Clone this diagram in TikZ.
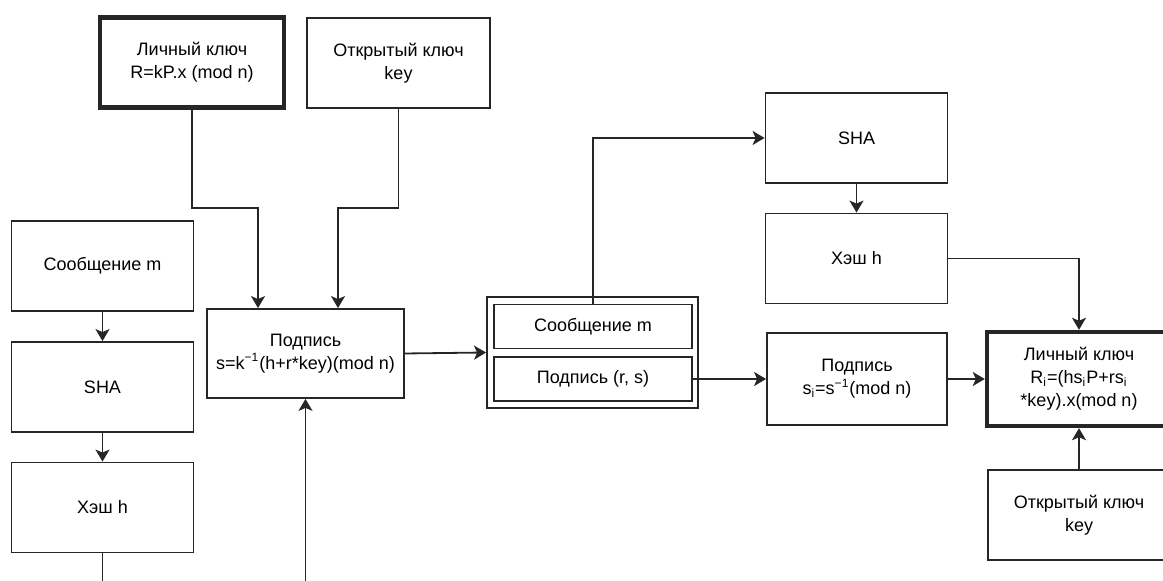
\documentclass[tikz,border=0pt]{standalone}
\usepackage{fontspec}
\setmainfont{Liberation Sans}
\usepackage{tikz}
\usetikzlibrary{arrows.meta,calc}
\definecolor{linegray}{HTML}{262626}

\tikzset{
  block/.style={draw=linegray,line width=0.9pt,rectangle,minimum width=91pt,minimum height=45pt,
    align=center,font=\fontsize{9}{11.5}\selectfont,inner sep=2pt},
  keyblock/.style={block,line width=2.2pt},
  slot/.style={block,minimum width=99pt,minimum height=22pt},
  arr/.style={draw=linegray,line width=0.9pt,-{Stealth[length=6pt,width=7pt,inset=1.5pt]}},
  wire/.style={draw=linegray,line width=0.9pt}
}

\begin{document}
\begin{tikzpicture}[x=0.5pt,y=-0.5pt]
  \useasboundingbox (0,0) rectangle (1163,581);
  \clip (0,0) rectangle (1163,581);

  % signing side
  \node[block] (msg) at (102.5,266) {Сообщение m};
  \node[block] (sha) at (102.5,387) {SHA};
  \node[block] (hash) at (102.5,507.5) {Хэш h};
  \node[keyblock,minimum width=92pt] (priv) at (192,62.5) {Личный ключ\\R=kP.x (mod n)};
  \node[block,minimum width=91.5pt] (pub) at (398.5,63) {Открытый ключ\\key};
  \node[block,minimum width=98.5pt,minimum height=44.5pt] (sign) at (305.5,353.5)
    {Подпись\\s=k\textsuperscript{−1}(h+r*key)(mod n)};

  % transmitted message
  \node[block,minimum width=105.5pt,minimum height=55.5pt] (packet) at (592.5,352.5) {};
  \node[slot] (pmsg) at (593,326.5) {Сообщение m};
  \node[slot] (psig) at (593,379) {Подпись (r, s)};

  % recovery side
  \node[block] (sha2) at (856.5,138) {SHA};
  \node[block] (hash2) at (856.5,258.5) {Хэш h};
  \node[block,minimum width=90pt,minimum height=46pt] (sinv) at (857,379)
    {Подпись\\s\textsubscript{i}=s\textsuperscript{−1}(mod n)};
  \node[keyblock,minimum width=92pt,minimum height=47pt] (priv2) at (1079,379)
    {Личный ключ\\R\textsubscript{i}=(hs\textsubscript{i}P+rs\textsubscript{i}\\*key).x(mod n)};
  \node[block] (pub2) at (1079,515) {Открытый ключ\\key};

  \coordinate (bend) at (0,208);
  \coordinate (hashend) at (102.5,590);
  \coordinate (kin) at (305.5,590);

  % connectors
  \draw[arr] (msg) -- (sha);
  \draw[arr] (sha) -- (hash);
  \draw[wire] (hash.south) -- (hashend);
  \draw[arr] (priv.south) -- (priv.south |- bend) -| ($(sign.north)+(-47.5,0)$);
  \draw[arr] (pub.south) -- (pub.south |- bend) -| ($(sign.north)+(32.5,0)$);
  \draw[arr] (kin) -- (sign.south);
  \draw[arr] (sign.east) -- (packet.west);
  \draw[arr] (pmsg.north) |- (sha2.west);
  \draw[arr] (sha2) -- (hash2);
  \draw[arr] (hash2.east) -| (priv2.north);
  \draw[arr] (psig.east) -- (sinv.west);
  \draw[arr] (sinv.east) -- (priv2.west);
  \draw[arr] (pub2.north) -- (priv2.south);
\end{tikzpicture}
\end{document}
